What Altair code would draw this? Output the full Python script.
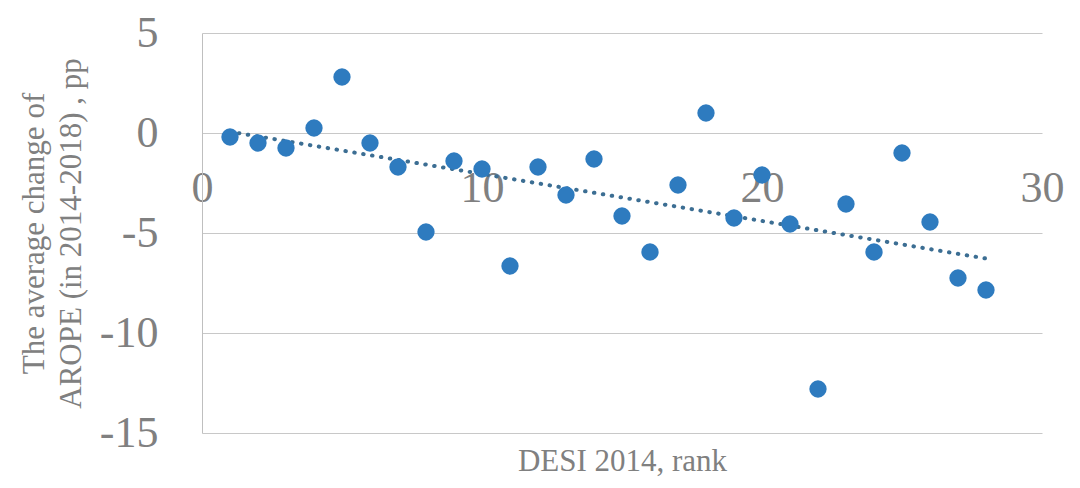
import altair as alt
import pandas as pd

ranks = list(range(1, 29))
arope_change = [-0.2, -0.5, -0.75, 0.25, 2.8, -0.5, -1.7, -4.95, -1.4, -1.8,
                -6.65, -1.7, -3.1, -1.3, -4.15, -5.95, -2.6, 1.0, -4.25, -2.1,
                -4.55, -12.8, -3.55, -5.95, -1.0, -4.45, -7.25, -7.85]
x_ticks = [0, 10, 20, 30]
y_ticks = [-15, -10, -5, 0, 5]

df = pd.DataFrame({"rank": ranks, "change": arope_change})

FONT = "Liberation Serif"
GRAY = "#808080"

x_enc = alt.X(
    "rank:Q",
    scale=alt.Scale(domain=[0, 30], nice=False, zero=False),
    axis=alt.Axis(
        values=x_ticks, offset=-300, domain=False, ticks=False, grid=False,
        labelFont=FONT, labelFontSize=44, labelColor=GRAY, labelPadding=33,
        labelFlush=False, labelOverlap=False,
        title="DESI 2014, rank", titleFont=FONT, titleFontSize=31,
        titleFontWeight="normal", titleColor=GRAY, titleX=420, titleY=337,
        titleBaseline="alphabetic", titleAlign="center",
    ),
)
y_enc = alt.Y(
    "change:Q",
    scale=alt.Scale(domain=[-15, 5], nice=False, zero=False),
    axis=alt.Axis(
        values=y_ticks, domain=True, domainColor="#bfbfbf", domainWidth=1,
        ticks=False, grid=True, gridColor="#c8c8c8", gridWidth=1,
        labelFont=FONT, labelFontSize=44, labelColor=GRAY, labelPadding=44,
        labelOverlap=False, labelExpr="'' + datum.value",
        title=["The average change of", "AROPE (in 2014-2018) , pp"],
        titleFont=FONT, titleFontSize=31, titleFontWeight="normal",
        titleColor=GRAY, titleLineHeight=37, titleX=-168, titleY=200,
        titleAngle=270, titleAlign="center", titleBaseline="middle",
    ),
)

points = alt.Chart(df).mark_circle(size=300, color="#2E7BBF", opacity=1).encode(
    x=x_enc, y=y_enc
)

trend = alt.Chart(df).transform_regression("rank", "change").mark_line(
    color="#3c6e93", strokeWidth=4, strokeDash=[0.5, 8.5], strokeCap="round"
).encode(x="rank:Q", y="change:Q")

chart = alt.layer(trend, points).properties(
    width=840, height=400,
    autosize=alt.AutoSizeParams(type="none"),
    padding={"left": 194, "top": 25, "right": 30, "bottom": 47},
).configure_view(stroke=None)

chart.save("out.html", embed_options={"renderer": "svg", "actions": False})
